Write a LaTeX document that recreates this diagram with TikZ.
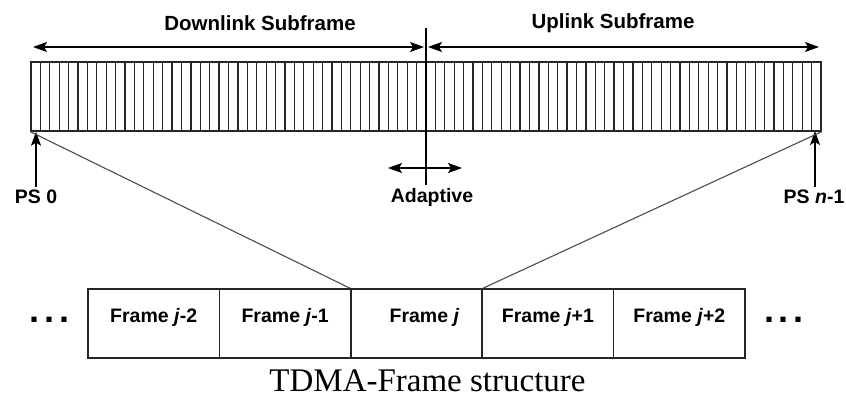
\documentclass[tikz,border=0pt]{standalone}
\usepackage{fontspec}
\setmainfont{Liberation Serif}
\setsansfont{Liberation Sans}
\usetikzlibrary{arrows.meta, positioning}
\tikzstyle{lbl} = [font=\sffamily\bfseries\fontsize{19.5}{23}\selectfont]
\tikzstyle{title} = [font=\sffamily\bfseries\fontsize{20.5}{24}\selectfont]
\tikzstyle{slotbar} = [rectangle,
minimum width=790pt,
minimum height=69pt,
inner sep=0pt,
draw=black!85,
line width=1.4pt]
\tikzstyle{framebox} = [rectangle,
minimum width=131.4pt,
minimum height=69pt,
text height=14pt,
text depth=17pt,
draw=black!85,
line width=1.5pt,
lbl]
\tikzstyle{arrow} = [line width=1.3pt, ->, >={Stealth[length=14pt,width=10pt,inset=3pt]}]
\tikzstyle{dblarrow} = [line width=1.3pt, <->, >={Stealth[length=14pt,width=10pt,inset=3pt]}]
\tikzstyle{dots} = [font=\sffamily\bfseries\fontsize{36}{38}\selectfont]

\begin{document}
\begin{tikzpicture}[x=1pt, y=-1pt, node distance=131.4pt]
			\useasboundingbox (0,0) rectangle (846,401);

			% the subframe strip
			\node (strip) [slotbar] at (426,96.5) {};
			\foreach \i in {1,...,83}
				\draw[black!85, line width=1.25pt] (31+\i*9.405,62) -- (31+\i*9.405,131);

			% downlink / uplink split
			\coordinate (divtop) at (426,28);
			\coordinate (divbot) at (426,185);
			\coordinate (dlleft) at (33,47);
			\coordinate (dlright) at (424,47);
			\coordinate (ulleft) at (428,47);
			\coordinate (ulright) at (819,47);
			\coordinate (adleft) at (388,168);
			\coordinate (adright) at (462,168);
			\draw[line width=1.3pt] (divtop) -- (divbot);
			\draw[line width=2.8pt] (divtop |- strip.north) -- (divtop |- strip.south);
			\draw[dblarrow] (dlleft) -- (dlright);
			\draw[dblarrow] (ulleft) -- (ulright);
			\draw[dblarrow] (adleft) -- (adright);

			\node (dltitle) [title] at (260,23) {Downlink Subframe};
			\node (ultitle) [title] at (613,23) {Uplink Subframe};
			\node (adapt) [lbl] at (432,197) {Adaptive};
			\node (pszero) [lbl] at (36,197) {PS 0};
			\node (pslast) [lbl] at (814,197) {PS \textit{n}-1};

			\draw[arrow] (pszero) -- (pszero |- strip.south);
			\draw[arrow] (pslast.north -| 815,0) -- (815,131);

			% the frame sequence
			\node (frmtwo) [framebox] at (153.7,323.5) {Frame \textit{j}-2};
			\node (frmone) [framebox, right of=frmtwo] {Frame \textit{j}-1};
			\node (frmj) [framebox, right of=frmone] {\hspace*{16pt}Frame \textit{j}};
			\node (frpone) [framebox, right of=frmj] {Frame \textit{j}+1};
			\node (frptwo) [framebox, right of=frpone] {Frame \textit{j}+2};
			\node (dotsl) [dots] at (50,320) {.\hspace{5pt}.\hspace{5pt}.};
			\node (dotsr) [dots] at (784,320) {.\hspace{5pt}.\hspace{5pt}.};

			\draw[black!70, line width=1.1pt] (strip.south west) -- (frmj.north west)
							(strip.south east) -- (frmj.north east);

			\node (caption) [anchor=base, inner sep=0pt, font=\fontsize{33}{36}\selectfont] at (427.5,391) {TDMA-Frame structure};
		\end{tikzpicture}
\end{document}
